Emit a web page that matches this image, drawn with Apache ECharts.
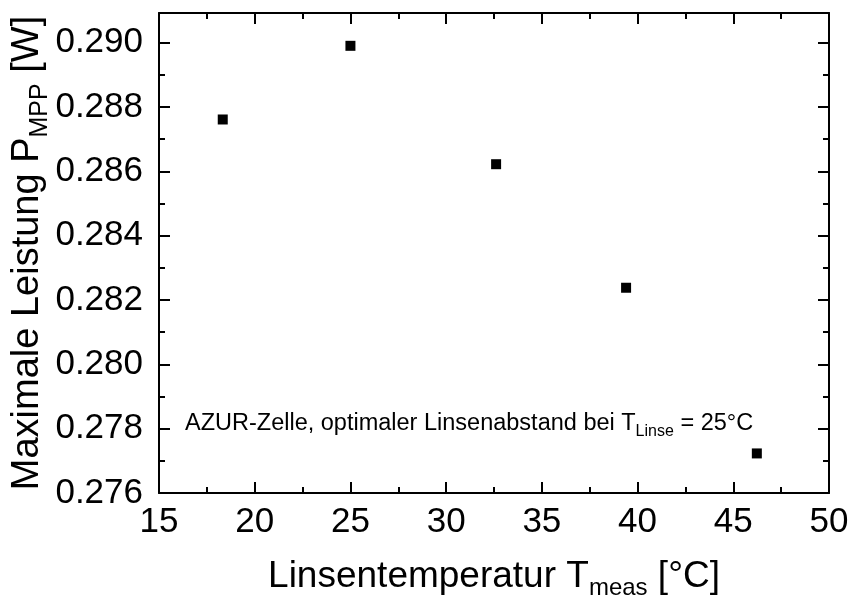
<!DOCTYPE html>
<html>
<head>
<meta charset="utf-8">
<script src="https://cdn.jsdelivr.net/npm/echarts@6/dist/echarts.min.js"></script>
<style>html,body{margin:0;padding:0;background:#fff}#c{width:852px;height:600px}</style>
</head>
<body>
<div id="c"></div>
<script>
// Data
const temperatures = [18.33, 25.0, 32.61, 39.40, 46.23];
const powers = [0.28761, 0.28990, 0.28622, 0.28238, 0.27723];
const xTicks = [15, 20, 25, 30, 35, 40, 45, 50];
const yTicks = ['0.276', '0.278', '0.280', '0.282', '0.284', '0.286', '0.288', '0.290'];

const FONT = '"Liberation Sans", Arial, sans-serif';
const chart = echarts.init(document.getElementById('c'), null, {renderer: 'canvas'});

const axisCommon = {
  axisLine: {show: true, onZero: false, lineStyle: {color: '#000', width: 2}},
  axisTick: {show: true, inside: true, length: 11, lineStyle: {color: '#000', width: 2}},
  minorTick: {show: true, splitNumber: 2, length: 6, lineStyle: {color: '#000', width: 2}},
  splitLine: {show: false}
};

const xMin = xTicks[0], xMax = xTicks[xTicks.length - 1];
const yMin = parseFloat(yTicks[0]);

chart.setOption({
  animation: false,
  backgroundColor: '#fff',
  textStyle: {fontFamily: FONT},
  grid: {left: 159, right: 23, top: 13, bottom: 107, containLabel: false, outerBoundsMode: 'none'},
  xAxis: [
    Object.assign({}, axisCommon, {
      type: 'value', position: 'bottom', min: xMin, max: xMax, interval: 5,
      axisLabel: {color: '#000', fontSize: 35, fontFamily: FONT, margin: 12},
      name: '{a|Linsentemperatur T}{s|meas}{a| [°C]}',
      nameLocation: 'middle', nameGap: 59, nameMoveOverlap: false,
      nameTextStyle: {
        color: '#000', fontFamily: FONT,
        rich: {
          a: {fontSize: 37, fontFamily: FONT, color: '#000', lineHeight: 50},
          s: {fontSize: 24, fontFamily: FONT, color: '#000', lineHeight: 24, padding: [23, 0, 0, 0]}
        }
      }
    }),
    Object.assign({}, axisCommon, {
      type: 'value', position: 'top', min: xMin, max: xMax, interval: 5,
      axisLabel: {show: false}
    })
  ],
  yAxis: [
    Object.assign({}, axisCommon, {
      type: 'value', position: 'left', min: yMin, max: 0.29092, interval: 0.002,
      axisLabel: {color: '#000', fontSize: 35, fontFamily: FONT, margin: 16, showMaxLabel: false,
        formatter: v => v.toFixed(3)},
      name: '{a|Maximale Leistung P}{s|MPP}{a| [W]}',
      nameLocation: 'middle', nameGap: 104, nameMoveOverlap: false,
      nameTextStyle: {
        color: '#000', fontFamily: FONT,
        rich: {
          a: {fontSize: 38, fontFamily: FONT, color: '#000', lineHeight: 54},
          s: {fontSize: 25, fontFamily: FONT, color: '#000', lineHeight: 25, padding: [24, 0, 0, 0]}
        }
      }
    }),
    Object.assign({}, axisCommon, {
      type: 'value', position: 'right', min: yMin, max: 0.29092, interval: 0.002,
      axisLabel: {show: false}
    })
  ],
  graphic: [{
    type: 'text', left: 185, top: 408,
    style: {
      text: '{a|AZUR-Zelle, optimaler Linsenabstand bei T}{s|Linse}{a| = 25°C}',
      fill: '#000', font: '23.5px ' + FONT,
      rich: {
        a: {fontSize: 23.5, fontFamily: FONT, fill: '#000', color: '#000', lineHeight: 32},
        s: {fontSize: 16, fontFamily: FONT, fill: '#000', color: '#000', lineHeight: 16, padding: [16, 0, 0, 0]}
      }
    }
  }],
  series: [{
    type: 'scatter',
    xAxisIndex: 0, yAxisIndex: 0,
    symbol: 'rect', symbolSize: 10,
    itemStyle: {color: '#000', opacity: 1},
    data: temperatures.map((t, i) => [t, powers[i]])
  }]
});
</script>
</body>
</html>
